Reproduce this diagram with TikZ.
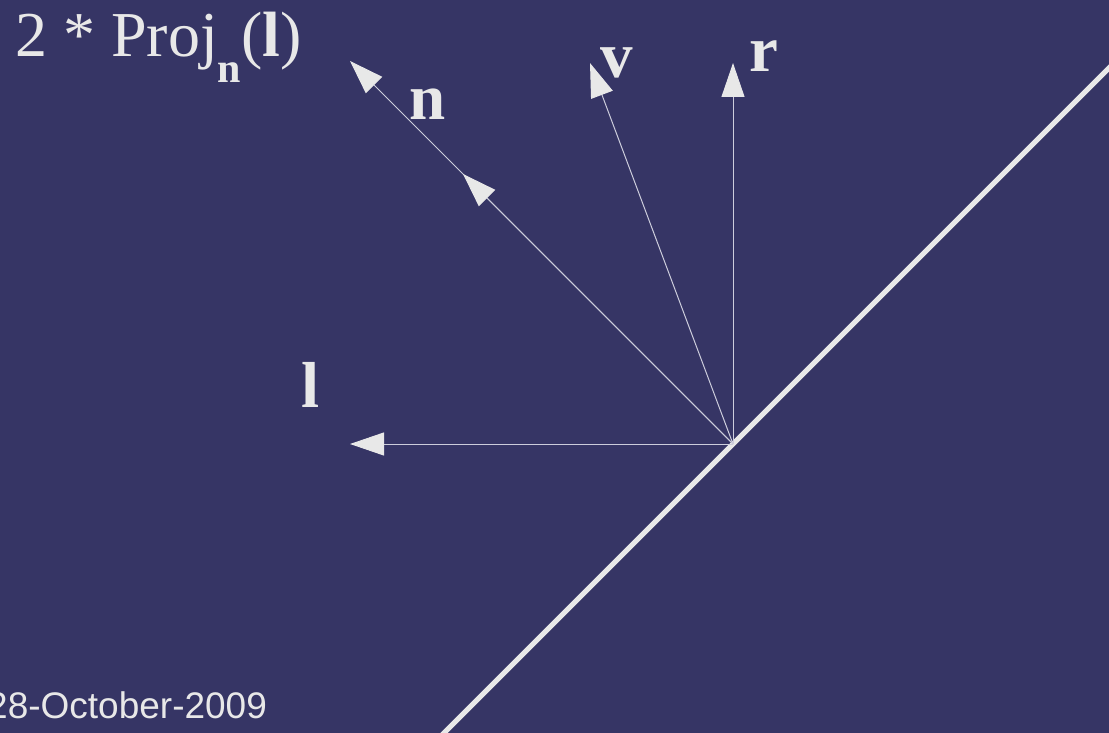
\documentclass[tikz,border=0pt]{standalone}
\usepackage{fontspec}
\setmainfont{Liberation Serif}
\setsansfont{Liberation Sans}
\usetikzlibrary{arrows.meta}
\definecolor{bgblue}{RGB}{54,53,101}
\definecolor{ink}{RGB}{232,232,232}
\definecolor{thinink}{RGB}{205,205,220}
\begin{document}
\begin{tikzpicture}[x=1pt, y=-1pt,
  vec/.style={draw=thinink, line width=1pt, -{Triangle[length=34pt, width=23pt, fill=ink, color=ink]}},
  surface/.style={draw=ink, line width=5pt},
  lbl/.style={text=ink, anchor=base, inner sep=0pt, font=\fontsize{65}{78}\selectfont\bfseries}]
\useasboundingbox (0,0) rectangle (1109,733);
\fill[bgblue] (0,0) rectangle (1109,733);
% reflection point and vector tips
\coordinate (O) at (733,444);
\coordinate (ltip) at (350,444);
\coordinate (ntip) at (463,174);
\coordinate (ptip) at (350,61);
\coordinate (vtip) at (590,63);
\coordinate (rtip) at (733,63);
\coordinate (s1) at (430,747);
\coordinate (s2) at (1123,54);
\draw[surface] (s1) -- (s2);
\draw[vec] (O) -- (ltip);
\draw[vec] (O) -- (ptip);
\draw[vec] (O) -- (ntip);
\draw[vec] (O) -- (vtip);
\draw[vec] (O) -- (rtip);
% labels
\node[lbl] (llbl) at (311,407) {l};
\node[lbl] (nlbl) at (428,120) {n};
\node[lbl] (vlbl) at (617,78) {v};
\node[lbl] (rlbl) at (764,72) {r};
\node[text=ink, anchor=base west, inner sep=0pt, font=\fontsize{64}{77}\selectfont] (proj) at (15,57)
  {2 * Proj\raisebox{-26pt}{\fontsize{42}{50}\selectfont\bfseries n}(\textbf{l})};
\node[text=ink, anchor=base west, inner sep=0pt, font=\sffamily\fontsize{37}{44}\selectfont] (date) at (-13,718)
  {28-October-2009};
\end{tikzpicture}
\end{document}
